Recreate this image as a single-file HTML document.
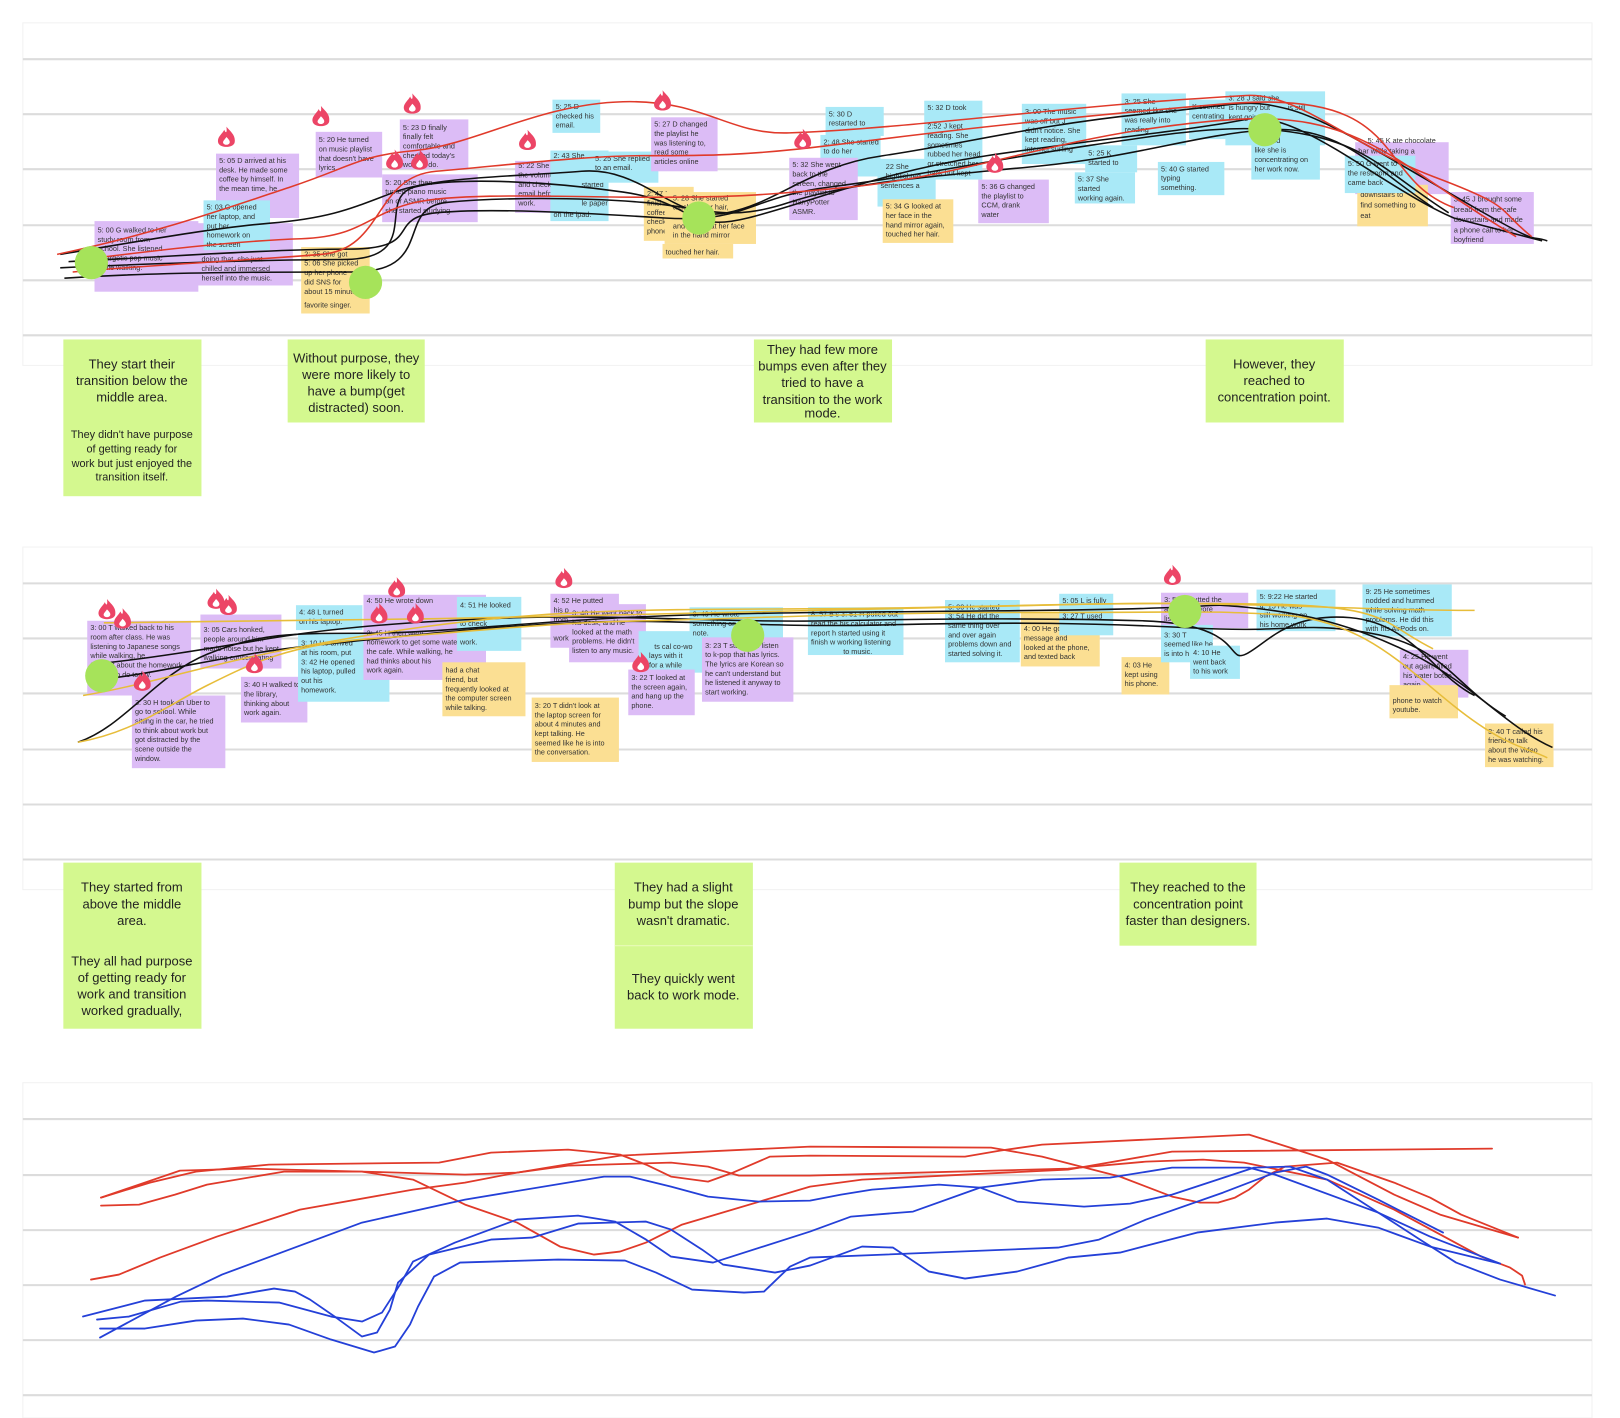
<!DOCTYPE html>
<html><head><meta charset="utf-8"><style>
html,body{margin:0;padding:0;background:#fff;}
svg{display:block;font-family:"Liberation Sans",sans-serif;}
.n text{font-size:7px;fill:#333;}
.g text{font-size:12.5px;fill:#222;text-anchor:middle;}
.g text.s{font-size:10.5px;}
</style></head><body>
<svg width="1620" height="1418" viewBox="0 0 1560 1366" preserveAspectRatio="none" xmlns="http://www.w3.org/2000/svg">
<defs>
<g id="fl"><path d="M0,-11 C4,-6 9,-3 8,4 C7,10 -7,10 -8,4 C-9,-1 -4,-4 -2,-8 C-1,-5 1,-4 0,-11Z" fill="#ec4566"/><path d="M0,-1 C2,1 4,3 3,5 C2,7 -2,7 -3,5 C-4,3 -1,1 0,-1Z" fill="#fff"/></g>
</defs>
<g fill="#fff" stroke="#f2f2f2">
<rect x="22" y="22" width="1511" height="330"/>
<rect x="22" y="527" width="1511" height="330"/>
<rect x="22" y="1043" width="1511" height="323"/>
</g>
<g stroke="#dcdcdc" stroke-width="2">
<path d="M22,57H1533M22,110H1533M22,163H1533M22,217H1533M22,270H1533M22,323H1533"/>
<path d="M22,562H1533M22,615H1533M22,668H1533M22,722H1533M22,775H1533M22,828H1533"/>
<path d="M22,1078H1533M22,1132H1533M22,1185H1533M22,1238H1533M22,1291H1533M22,1344H1533"/>
</g>

<g class="n">
<rect x="91" y="213" width="100" height="68" fill="#dcbcf6"/><text x="94" y="224">5: 00 G walked to her</text><text x="94" y="233">study room from</text><text x="94" y="242">school. She listened</text><text x="94" y="251">energetic pop music</text><text x="94" y="260">while walking.</text>
<rect x="208" y="148" width="80" height="62" fill="#dcbcf6"/><text x="211" y="157">5: 05 D arrived at his</text><text x="211" y="166">desk. He made some</text><text x="211" y="175">coffee by himself. In</text><text x="211" y="184">the mean time, he</text>
<rect x="190" y="215" width="92" height="60" fill="#dcbcf6"/><text x="194" y="252">doing that, she just</text><text x="194" y="261">chilled and immersed</text><text x="194" y="270">herself into the music.</text>
<rect x="196" y="193" width="64" height="48" fill="#a9e9f7"/><text x="199" y="202">5: 03 G opened</text><text x="199" y="211">her laptop, and</text><text x="199" y="220">put her</text><text x="199" y="229">homework on</text><text x="199" y="238">the screen</text>
<rect x="304" y="127" width="64" height="44" fill="#dcbcf6"/><text x="307" y="137">5: 20 He turned</text><text x="307" y="146">on music playlist</text><text x="307" y="155">that doesn't have</text><text x="307" y="164">lyrics.</text>
<rect x="290" y="238" width="66" height="64" fill="#fbdf93"/><text x="293" y="247">2: 35 She got</text><text x="293" y="256">5: 06 She picked</text><text x="293" y="265">up her phone</text><text x="293" y="274">did SNS for</text><text x="293" y="283">about 15 minute</text><text x="293" y="296">favorite singer.</text>
<rect x="385" y="115" width="66" height="48" fill="#dcbcf6"/><text x="388" y="125">5: 23 D finally</text><text x="388" y="134">finally felt</text><text x="388" y="143">comfortable and</text><text x="388" y="152">checked today's</text><text x="388" y="161">work to do.</text>
<rect x="368" y="168" width="92" height="46" fill="#dcbcf6"/><text x="371" y="178">5: 20 She then</text><text x="371" y="187">turned piano music</text><text x="371" y="196">on or ASMR before</text><text x="371" y="205">she started studying</text>
<rect x="532" y="96" width="46" height="32" fill="#a9e9f7"/><text x="535" y="105">5: 25 D</text><text x="535" y="114">checked his</text><text x="535" y="123">email.</text>
<rect x="496" y="155" width="64" height="50" fill="#dcbcf6"/><text x="499" y="162">5: 22 She turned</text><text x="499" y="171">the volume up,</text><text x="499" y="180">and checked</text><text x="499" y="189">email before</text><text x="499" y="198">work.</text>
<rect x="530" y="145" width="56" height="68" fill="#a9e9f7"/><text x="533" y="152">2: 43 She</text><text x="560" y="180">started</text><text x="560" y="198">le paper</text><text x="533" y="209">on the ipad.</text>
<rect x="570" y="146" width="64" height="30" fill="#a9e9f7"/><text x="573" y="155">5: 25 She replied</text><text x="573" y="164">to an email.</text>
<rect x="627" y="113" width="64" height="52" fill="#dcbcf6"/><text x="630" y="122">5: 27 D changed</text><text x="630" y="131">the playlist he</text><text x="630" y="140">was listening to,</text><text x="630" y="149">read some</text><text x="630" y="158">articles online</text>
<rect x="620" y="180" width="48" height="52" fill="#fbdf93"/><text x="623" y="189">2: 47 I</text><text x="623" y="198">finished</text><text x="623" y="207">coffee</text><text x="623" y="216">check</text><text x="623" y="225">phone</text>
<rect x="640" y="185" width="88" height="50" fill="#fbdf93"/><text x="648" y="193">5: 28 She started</text><text x="648" y="202">touching her hair,</text><text x="648" y="220">and looked at her face</text><text x="648" y="229">in the hand mirror</text>
<rect x="638" y="235" width="68" height="14" fill="#fbdf93"/><text x="641" y="245">touched her hair.</text>
<rect x="795" y="103" width="56" height="28" fill="#a9e9f7"/><text x="798" y="112">5: 30 D</text><text x="798" y="121">restarted to</text>
<rect x="790" y="130" width="58" height="40" fill="#a9e9f7"/><text x="793" y="139">2: 48 She started</text><text x="793" y="148">to do her</text>
<rect x="760" y="152" width="66" height="60" fill="#dcbcf6"/><text x="763" y="161">5: 32 She went</text><text x="763" y="170">back to the</text><text x="763" y="179">screen, changed</text><text x="763" y="188">the playlist to</text><text x="763" y="197">HarryPotter</text><text x="763" y="206">ASMR.</text>
<rect x="845" y="153" width="56" height="46" fill="#a9e9f7"/><text x="853" y="163">22 She</text><text x="853" y="172">highlighted</text><text x="848" y="181">sentences a</text>
<rect x="850" y="192" width="68" height="42" fill="#fbdf93"/><text x="853" y="201">5: 34 G looked at</text><text x="853" y="210">her face in the</text><text x="853" y="219">hand mirror again,</text><text x="853" y="228">touched her hair.</text>
<rect x="890" y="97" width="56" height="76" fill="#a9e9f7"/><text x="893" y="106">5: 32 D took</text><text x="893" y="124">2:52 J kept</text><text x="893" y="133">reading. She</text><text x="893" y="142">sometimes</text><text x="893" y="151">rubbed her head</text><text x="893" y="160">or stretched her</text><text x="893" y="169">back but kept</text>
<rect x="942" y="173" width="68" height="42" fill="#dcbcf6"/><text x="945" y="182">5: 36 G changed</text><text x="945" y="191">the playlist to</text><text x="945" y="200">CCM, drank</text><text x="945" y="209">water</text>
<rect x="984" y="100" width="62" height="58" fill="#a9e9f7"/><text x="987" y="110">3: 00 The music</text><text x="987" y="119">was off but J</text><text x="987" y="128">didn't notice. She</text><text x="987" y="137">kept reading,</text><text x="987" y="146">internet surfing</text>
<rect x="1035" y="166" width="58" height="30" fill="#a9e9f7"/><text x="1038" y="175">5: 37 She</text><text x="1038" y="184">started</text><text x="1038" y="193">working again.</text>
<rect x="1045" y="140" width="50" height="26" fill="#a9e9f7"/><text x="1048" y="150">5: 25 K</text><text x="1048" y="159">started to</text>
<rect x="1080" y="90" width="62" height="50" fill="#a9e9f7"/><text x="1083" y="100">3: 25 She</text><text x="1083" y="109">seemed like she</text><text x="1083" y="118">was really into</text><text x="1083" y="127">reading</text>
<rect x="1145" y="96" width="56" height="38" fill="#a9e9f7"/><text x="1148" y="105">K seemed</text><text x="1148" y="114">centrating o</text>
<rect x="1115" y="156" width="64" height="32" fill="#a9e9f7"/><text x="1118" y="165">5: 40 G started</text><text x="1118" y="174">typing</text><text x="1118" y="183">something.</text>
<rect x="1180" y="88" width="96" height="52" fill="#a9e9f7"/><text x="1183" y="97">3: 28 J said she</text><text x="1183" y="106">is hungry but</text><text x="1240" y="106">is still</text><text x="1183" y="115">kept going</text>
<rect x="1205" y="125" width="66" height="48" fill="#a9e9f7"/><text x="1208" y="138">seemed</text><text x="1208" y="147">like she is</text><text x="1208" y="156">concentrating on</text><text x="1208" y="165">her work now.</text>
<rect x="1305" y="137" width="90" height="50" fill="#dcbcf6"/><text x="1317" y="138">5: 45 K ate chocolate</text><text x="1308" y="148">bar while taking a</text>
<rect x="1307" y="178" width="68" height="40" fill="#fbdf93"/><text x="1310" y="190">downstairs to</text><text x="1310" y="200">find something to</text><text x="1310" y="210">eat</text>
<rect x="1295" y="150" width="68" height="36" fill="#a9e9f7"/><text x="1298" y="160">5: 50 G went to</text><text x="1298" y="169">the restroom and</text><text x="1298" y="178">came back</text>
<rect x="1397" y="185" width="80" height="50" fill="#dcbcf6"/><text x="1400" y="194">3: 45 J brought some</text><text x="1400" y="204">bread from the cafe</text><text x="1400" y="214">downstairs and made</text><text x="1400" y="224">a phone call to her</text><text x="1400" y="233">boyfriend</text>
</g>

<g fill="none" stroke-width="1.5">
<g stroke="#111">
<path d="M58,245 C120,235 200,220 260,215 S340,200 380,185 S500,170 560,165 S650,215 700,205 S780,160 850,150 S1000,120 1100,110 S1200,95 1240,105 S1350,160 1420,200 S1470,225 1490,232"/>
<path d="M58,258 C120,255 250,250 330,250 S360,190 400,180 S530,175 600,185 S660,225 720,210 S850,165 950,150 S1150,125 1200,115 S1330,180 1400,210 L1485,232"/>
<path d="M62,268 C150,262 260,262 340,262 S380,200 430,195 S560,190 620,195 S700,215 760,195 S900,170 1000,160 S1150,130 1220,125 S1320,160 1380,200"/>
<path d="M66,252 C150,248 260,240 335,240 S370,210 420,205 S560,205 640,210 S720,190 800,180 S950,155 1050,140 S1200,118 1260,130 S1340,170 1395,205"/>
</g>
<g stroke="#e03a2a">
<path d="M55,245 C150,225 220,200 280,180 S345,150 400,145 S520,100 600,98 S700,130 760,128 S900,118 1000,108 S1150,95 1200,92 S1300,140 1380,170 S1440,200 1475,228"/>
<path d="M70,262 C150,255 250,250 310,245 S360,170 420,165 S560,150 620,150 S720,150 800,140 S1000,115 1180,100 S1320,170 1400,200"/>
<path d="M80,250 C160,240 230,232 290,230 S355,205 400,195 S550,190 620,190 S720,190 820,180 S1000,140 1100,125 S1250,110 1300,130 S1380,180 1460,228"/>
</g>
</g>
<g fill="#a6e35a">
<circle cx="88" cy="253" r="16"/><circle cx="352" cy="272" r="16"/><circle cx="673" cy="210" r="16"/><circle cx="1218" cy="125" r="16"/>
</g>
<g>
<use href="#fl" x="218" y="133"/><use href="#fl" x="309" y="113"/><use href="#fl" x="397" y="101"/><use href="#fl" x="508" y="136"/><use href="#fl" x="638" y="98"/><use href="#fl" x="773" y="135"/><use href="#fl" x="958" y="158"/><use href="#fl" x="380" y="155"/><use href="#fl" x="404" y="155"/>
</g>

<g class="n">
<rect x="84" y="598" width="100" height="72" fill="#dcbcf6"/><text x="87" y="607">3: 00 T walked back to his</text><text x="87" y="616">room after class. He was</text><text x="87" y="625">listening to Japanese songs</text><text x="87" y="634">while walking, he</text><text x="87" y="643">thought about the homework</text><text x="87" y="652">he has to do today.</text>
<rect x="127" y="670" width="90" height="70" fill="#dcbcf6"/><text x="130" y="679">3: 30 H took an Uber to</text><text x="130" y="688">go to school. While</text><text x="130" y="697">sitting in the car, he tried</text><text x="130" y="706">to think about work but</text><text x="130" y="715">got distracted by the</text><text x="130" y="724">scene outside the</text><text x="130" y="733">window.</text>
<rect x="193" y="592" width="78" height="52" fill="#dcbcf6"/><text x="196" y="609">3: 05 Cars honked,</text><text x="196" y="618">people around him</text><text x="196" y="627">made noise but he kept</text><text x="196" y="636">walking concentrating</text>
<rect x="232" y="652" width="64" height="44" fill="#dcbcf6"/><text x="235" y="662">3: 40 H walked to</text><text x="235" y="671">the library,</text><text x="235" y="680">thinking about</text><text x="235" y="689">work again.</text>
<rect x="285" y="583" width="64" height="24" fill="#a9e9f7"/><text x="288" y="592">4: 48 L turned</text><text x="288" y="601">on his laptop.</text>
<rect x="287" y="610" width="88" height="66" fill="#a9e9f7"/><text x="290" y="622">3: 10 He arrived</text><text x="290" y="631">at his room, put</text><text x="290" y="640">3: 42 He opened</text><text x="290" y="649">his laptop, pulled</text><text x="290" y="658">out his</text><text x="290" y="667">homework.</text>
<rect x="350" y="573" width="118" height="82" fill="#dcbcf6"/><text x="353" y="581">4: 50 He wrote down</text><text x="353" y="612">3: 45 H then went</text><text x="353" y="621">homework to get some water.</text><text x="353" y="630">the cafe. While walking, he</text><text x="353" y="639">had thinks about his</text><text x="353" y="648">work again.</text>
<rect x="440" y="575" width="62" height="52" fill="#a9e9f7"/><text x="443" y="585">4: 51 He looked</text><text x="443" y="603">to check</text><text x="443" y="621">work.</text>
<rect x="426" y="638" width="80" height="52" fill="#fbdf93"/><text x="429" y="648">had a chat</text><text x="429" y="657">friend, but</text><text x="429" y="666">frequently looked at</text><text x="429" y="675">the computer screen</text><text x="429" y="684">while talking.</text>
<rect x="512" y="672" width="84" height="62" fill="#fbdf93"/><text x="515" y="682">3: 20 T didn't look at</text><text x="515" y="691">the laptop screen for</text><text x="515" y="700">about 4 minutes and</text><text x="515" y="709">kept talking. He</text><text x="515" y="718">seemed like he is into</text><text x="515" y="727">the conversation.</text>
<rect x="530" y="572" width="66" height="52" fill="#dcbcf6"/><text x="533" y="581">4: 52 He putted</text><text x="533" y="590">his p</text><text x="533" y="599">from</text><text x="533" y="617">work</text>
<rect x="548" y="582" width="74" height="56" fill="#dcbcf6"/><text x="551" y="593">3: 48 He went back to</text><text x="551" y="602">his desk, and he</text><text x="551" y="611">looked at the math</text><text x="551" y="620">problems. He didn't</text><text x="551" y="629">listen to any music.</text>
<rect x="615" y="608" width="66" height="40" fill="#a9e9f7"/><text x="630" y="625">ts cal co-wo</text><text x="625" y="634">lays with it</text><text x="625" y="643">for a while</text>
<rect x="605" y="645" width="64" height="44" fill="#dcbcf6"/><text x="608" y="655">3: 22 T looked at</text><text x="608" y="664">the screen again,</text><text x="608" y="673">and hang up the</text><text x="608" y="682">phone.</text>
<rect x="664" y="585" width="90" height="30" fill="#a9e9f7"/><text x="667" y="594">3: 49 He wrote</text><text x="667" y="603">something on his</text><text x="667" y="612">note.</text>
<rect x="676" y="614" width="88" height="62" fill="#dcbcf6"/><text x="679" y="624">3: 23 T started to listen</text><text x="679" y="633">to k-pop that has lyrics.</text><text x="679" y="642">The lyrics are Korean so</text><text x="679" y="651">he can't understand but</text><text x="679" y="660">he listened it anyway to</text><text x="679" y="669">start working.</text>
<rect x="778" y="585" width="92" height="46" fill="#a9e9f7"/><text x="781" y="594">8: 57 B's 3: 51 H pulled out</text><text x="781" y="603">read the his calculator and</text><text x="781" y="612">report h started using it</text><text x="781" y="621">finish w working listening</text><text x="812" y="630">to music.</text>
<rect x="910" y="578" width="72" height="60" fill="#a9e9f7"/><text x="913" y="587">5: 00 He started</text><text x="913" y="596">3: 54 He did the</text><text x="913" y="605">same thing over</text><text x="913" y="614">and over again</text><text x="913" y="623">problems down and</text><text x="913" y="632">started solving it.</text>
<rect x="983" y="590" width="76" height="52" fill="#fbdf93"/><text x="986" y="608">4: 00 He got a text</text><text x="986" y="617">message and</text><text x="986" y="626">looked at the phone,</text><text x="986" y="635">and texted back</text>
<rect x="1020" y="572" width="52" height="40" fill="#a9e9f7"/><text x="1023" y="581">5: 05 L is fully</text><text x="1023" y="596">3: 27 T used</text>
<rect x="1080" y="633" width="46" height="36" fill="#fbdf93"/><text x="1083" y="643">4: 03 He</text><text x="1083" y="652">kept using</text><text x="1083" y="661">his phone.</text>
<rect x="1118" y="571" width="84" height="34" fill="#dcbcf6"/><text x="1121" y="580">3: 5 He putted the</text><text x="1121" y="589">away and wore</text><text x="1121" y="598">listen to</text>
<rect x="1118" y="602" width="50" height="36" fill="#a9e9f7"/><text x="1121" y="614">3: 30 T</text><text x="1121" y="623">seemed like he</text><text x="1121" y="632">is into h</text>
<rect x="1146" y="622" width="48" height="32" fill="#a9e9f7"/><text x="1149" y="631">4: 10 He</text><text x="1149" y="640">went back</text><text x="1149" y="649">to his work</text>
<rect x="1210" y="568" width="76" height="40" fill="#a9e9f7"/><text x="1213" y="577">5: 9:22 He started</text><text x="1213" y="586">4: 15 He was</text><text x="1213" y="595">still working on</text><text x="1213" y="604">his home work</text>
<rect x="1312" y="563" width="86" height="50" fill="#a9e9f7"/><text x="1315" y="572">9: 25 He sometimes</text><text x="1315" y="581">nodded and hummed</text><text x="1315" y="590">while solving math</text><text x="1315" y="599">problems. He did this</text><text x="1315" y="608">with his AirPods on.</text>
<rect x="1348" y="626" width="66" height="46" fill="#dcbcf6"/><text x="1351" y="635">4: 25 He went</text><text x="1351" y="644">out again, filled</text><text x="1351" y="653">his water bottle</text><text x="1351" y="662">again.</text>
<rect x="1338" y="660" width="66" height="32" fill="#fbdf93"/><text x="1341" y="677">phone to watch</text><text x="1341" y="686">youtube.</text>
<rect x="1430" y="697" width="66" height="42" fill="#fbdf93"/><text x="1433" y="707">3: 40 T called his</text><text x="1433" y="716">friend to talk</text><text x="1433" y="725">about the video</text><text x="1433" y="734">he was watching.</text>
</g>

<g fill="none" stroke-width="1.5">
<g stroke="#111">
<path d="M75,715 C120,700 150,650 200,630 S280,610 350,610 S500,600 600,595 S800,590 1000,588 S1150,580 1200,585 S1300,600 1360,630 S1450,700 1495,720"/>
<path d="M88,640 C140,635 200,625 260,615 S400,598 500,595 S700,600 800,598 S1000,595 1100,598 S1180,640 1200,630 S1240,590 1300,595 S1380,650 1420,670"/>
<path d="M90,655 C150,650 220,630 300,622 S450,605 550,600 S720,605 850,602 S1050,600 1150,605 S1250,598 1320,610 S1400,660 1450,690"/>
</g>
<g stroke="#e7bd3a">
<path d="M75,715 C130,705 160,680 200,660 S280,620 360,615 S520,600 620,598 S820,590 1000,590 S1150,588 1230,592 S1350,640 1400,680 S1470,720 1490,730"/>
<path d="M80,670 C140,660 200,640 280,625 S450,595 560,590 S760,588 900,585 S1100,580 1220,582 S1330,600 1380,625"/>
<path d="M100,600 C200,598 300,598 420,596 S600,592 700,590 S900,585 1050,582 S1300,588 1420,588"/>
</g>
</g>
<g fill="#a6e35a">
<circle cx="98" cy="651" r="16"/><circle cx="720" cy="612" r="16"/><circle cx="1141" cy="589" r="16"/>
</g>
<g>
<use href="#fl" x="103" y="588"/><use href="#fl" x="118" y="597"/><use href="#fl" x="208" y="578"/><use href="#fl" x="220" y="584"/><use href="#fl" x="245" y="640"/><use href="#fl" x="137" y="657"/><use href="#fl" x="382" y="567"/><use href="#fl" x="365" y="592"/><use href="#fl" x="400" y="592"/><use href="#fl" x="543" y="558"/><use href="#fl" x="617" y="639"/><use href="#fl" x="1129" y="555"/>
</g>

<g class="g">
<rect x="61" y="327" width="133" height="151" fill="#d4f88f"/>
<text x="127" y="355">They start their</text><text x="127" y="371">transition below the</text><text x="127" y="387">middle area.</text>
<text class="s" x="127" y="422">They didn't have purpose</text><text class="s" x="127" y="436">of getting ready for</text><text class="s" x="127" y="450">work but just enjoyed the</text><text class="s" x="127" y="463">transition itself.</text>
<rect x="277" y="327" width="132" height="80" fill="#d4f88f"/>
<text x="343" y="349">Without purpose, they</text><text x="343" y="365">were more likely to</text><text x="343" y="381">have a bump(get</text><text x="343" y="397">distracted) soon.</text>
<rect x="726" y="327" width="133" height="80" fill="#d4f88f"/>
<text x="792" y="341">They had few more</text><text x="792" y="357">bumps even after they</text><text x="792" y="373">tried to have a</text><text x="792" y="389">transition to the work</text><text x="792" y="402">mode.</text>
<rect x="1161" y="327" width="133" height="80" fill="#d4f88f"/>
<text x="1227" y="355">However, they</text><text x="1227" y="371">reached to</text><text x="1227" y="387">concentration point.</text>
<rect x="61" y="831" width="133" height="160" fill="#d4f88f"/>
<text x="127" y="859">They started from</text><text x="127" y="875">above the middle</text><text x="127" y="891">area.</text>
<text x="127" y="930">They all had purpose</text><text x="127" y="946">of getting ready for</text><text x="127" y="962">work and transition</text><text x="127" y="978">worked gradually,</text>
<rect x="592" y="831" width="133" height="160" fill="#d4f88f"/>
<text x="658" y="859">They had a slight</text><text x="658" y="875">bump but the slope</text><text x="658" y="891">wasn't dramatic.</text>
<text x="658" y="947">They quickly went</text><text x="658" y="963">back to work mode.</text>
<line x1="592" y1="911" x2="725" y2="911" stroke="#e8fbb8" stroke-width="1"/>
<rect x="1078" y="831" width="132" height="80" fill="#d4f88f"/>
<text x="1144" y="859">They reached to the</text><text x="1144" y="875">concentration point</text><text x="1144" y="891">faster than designers.</text>
</g>

<g transform="scale(0.963)" fill="none" stroke-width="1.8" stroke-linejoin="round" stroke-linecap="round">
<g stroke="#e03a2a">
<polyline points="91,1280 119,1275 160,1258 217,1237 300,1210 413,1190 465,1183 517,1173 620,1156 810,1147 991,1148 1042,1157 1120,1177 1172,1197 1200,1203 1218,1203 1235,1198 1249,1190 1265,1177 1285,1167 1337,1163 1394,1183 1430,1198 1461,1215 1518,1238"/>
<polyline points="101,1198 150,1183 196,1172 269,1165 439,1163 491,1153 568,1150 620,1155 646,1165 671,1177 708,1182 733,1173 770,1157 810,1156 965,1157 1000,1151 1042,1145 1249,1135 1290,1148 1327,1160 1394,1195 1440,1215 1518,1238"/>
<polyline points="101,1198 180,1171 248,1169 362,1172 465,1175 517,1173 568,1166 671,1163 708,1167 739,1176 810,1176 1068,1169 1146,1162 1203,1160 1244,1163 1327,1180 1394,1210 1481,1257 1510,1268 1522,1276 1525,1285"/>
<polyline points="101,1206 139,1205 175,1195 207,1185 284,1172 362,1172 413,1180 465,1205 517,1223 560,1247 594,1255 620,1252 646,1243 682,1225 810,1187 862,1180 1068,1170 1172,1152 1492,1149"/>
</g>
<g stroke="#2440d8">
<polyline points="83,1317 145,1301 227,1297 274,1289 295,1292 310,1300 336,1318 362,1337 377,1333 390,1310 398,1283 429,1255 491,1240 532,1238 578,1224 646,1222 671,1230 702,1250 723,1265 775,1273 810,1266 862,1247 893,1248 929,1272 965,1279 1017,1272 1068,1258 1120,1253 1197,1233 1275,1223 1327,1219 1378,1228 1430,1247 1500,1264"/>
<polyline points="97,1320 129,1317 181,1302 207,1301 279,1303 331,1317 362,1322 382,1313 400,1285 413,1262 455,1243 517,1220 578,1216 615,1222 646,1240 671,1257 713,1263 810,1232 851,1217 913,1212 980,1188 1042,1180 1110,1178 1172,1168 1249,1168 1275,1175 1378,1213 1430,1237 1500,1264"/>
<polyline points="100,1329 145,1329 196,1321 243,1319 289,1325 331,1340 374,1353 395,1347 410,1325 418,1307 434,1277 460,1263 558,1260 625,1261 656,1273 692,1290 744,1293 764,1292 790,1267 810,1258 1058,1248 1099,1240 1146,1220 1223,1193 1275,1173 1306,1167 1327,1175 1378,1200 1443,1233"/>
<polyline points="100,1338 176,1297 222,1275 362,1223 465,1200 604,1177 630,1177 671,1187 708,1197 759,1202 810,1201 841,1195 872,1190 939,1185 980,1188 1017,1202 1084,1207 1130,1204 1172,1195 1254,1168 1290,1167 1327,1180 1420,1240 1456,1263 1500,1280 1555,1296"/>
</g>
</g>
</svg>
</body></html>
